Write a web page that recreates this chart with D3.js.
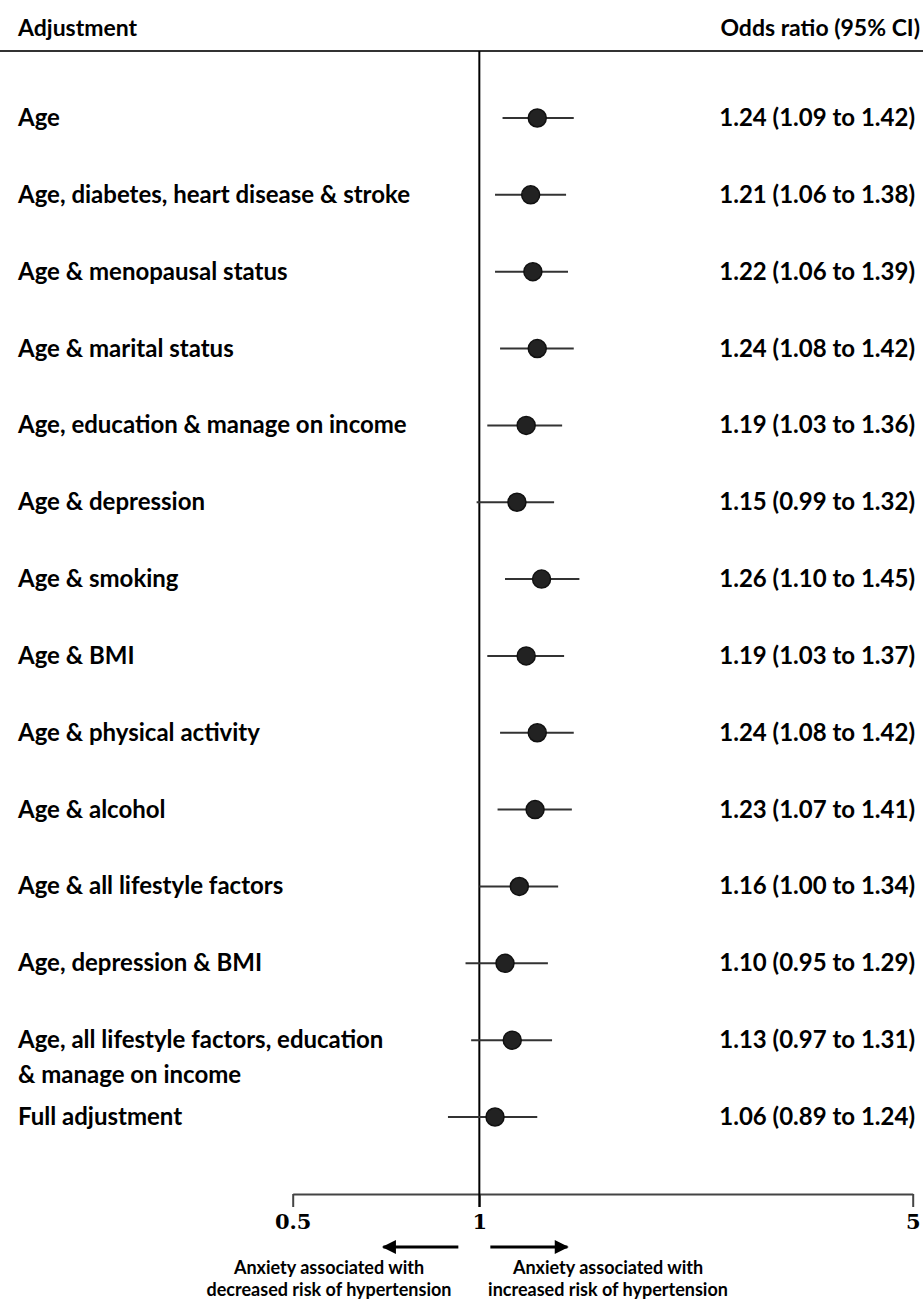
<!DOCTYPE html>
<html>
<head>
<meta charset="utf-8">
<script src="https://cdn.jsdelivr.net/npm/d3@7"></script>
<style>
  body { margin: 0; background: #fff; }
  text { font-family: Lato, "Open Sans", sans-serif; font-weight: bold; fill: #000; }
</style>
</head>
<body>
<script>
// data
const labels = [
  "Age",
  "Age, diabetes, heart disease & stroke",
  "Age & menopausal status",
  "Age & marital status",
  "Age, education & manage on income",
  "Age & depression",
  "Age & smoking",
  "Age & BMI",
  "Age & physical activity",
  "Age & alcohol",
  "Age & all lifestyle factors",
  "Age, depression & BMI",
  "Age, all lifestyle factors, education|& manage on income",
  "Full adjustment"
]
const oddsRatio = [1.24, 1.21, 1.22, 1.24, 1.19, 1.15, 1.26, 1.19, 1.24, 1.23, 1.16, 1.10, 1.13, 1.06]
const ciLow  = [1.09, 1.06, 1.06, 1.08, 1.03, 0.99, 1.10, 1.03, 1.08, 1.07, 1.00, 0.95, 0.97, 0.89]
const ciHigh = [1.42, 1.38, 1.39, 1.42, 1.36, 1.32, 1.45, 1.37, 1.42, 1.41, 1.34, 1.29, 1.31, 1.24]
const tickValues = [0.5, 1, 5]

const width = 923
const height = 1302

const rows = labels.map((l, i) => ({
  label: l, or: oddsRatio[i], lo: ciLow[i], hi: ciHigh[i], i: i
}))

const svg = d3.select("body").append("svg")
  .attr("width", width)
  .attr("height", height)

const x = d3.scaleLog().domain([0.5, 5]).range([292.7, 912.7])
const y = d3.scalePoint().domain(d3.range(rows.length)).range([118, 1117])

const fmt = d3.format(".2f")

// header
svg.append("text").attr("x", 18).attr("y", 36).style("font-size", "23px").text("Adjustment")
svg.append("text").attr("x", 920).attr("y", 36).attr("text-anchor", "end")
  .style("font-size", "23px").text("Odds ratio (95% CI)")
svg.append("line").attr("x1", 0).attr("x2", width).attr("y1", 51).attr("y2", 51)
  .attr("stroke", "#333").attr("stroke-width", 2)

// axis
const axisY = 1194
const axis = svg.append("g")
  .attr("transform", `translate(0,${axisY})`)
  .call(d3.axisBottom(x).tickValues(tickValues).tickSize(13).tickSizeOuter(0)
    .tickFormat(d => d))
axis.select(".domain").attr("stroke", "#444").attr("stroke-width", 2)
axis.selectAll(".tick line").attr("stroke", "#444").attr("stroke-width", 2)
axis.selectAll(".tick text")
  .attr("y", 20)
  .attr("dy", "0.71em")
  .style("font-family", "'DejaVu Serif', serif")
  .style("font-size", "21px")
  .style("font-weight", "bold")
  .attr("fill", "#000")

// reference line at OR = 1
svg.append("line")
  .attr("x1", x(1)).attr("x2", x(1))
  .attr("y1", 51).attr("y2", axisY + 13)
  .attr("stroke", "#000").attr("stroke-width", 2)

// rows
const row = svg.append("g").selectAll("g")
  .data(rows)
  .enter()
  .append("g")

row.append("text")
  .style("font-size", "24px")
  .each(function(d) {
    const parts = d.label.split("|")
    d3.select(this).selectAll("tspan")
      .data(parts)
      .enter()
      .append("tspan")
      .attr("x", 18)
      .attr("y", (p, k) => y(d.i) + 8 + k * 35)
      .text(p => p)
  })

row.append("line")
  .attr("x1", d => x(d.lo))
  .attr("x2", d => x(d.hi))
  .attr("y1", d => y(d.i))
  .attr("y2", d => y(d.i))
  .attr("stroke", "#333")
  .attr("stroke-width", 2)

row.append("circle")
  .attr("cx", d => x(d.or))
  .attr("cy", d => y(d.i))
  .attr("r", 9)
  .attr("fill", "#222")
  .attr("stroke", "#111")
  .attr("stroke-width", 1.5)

row.append("text")
  .attr("x", 915)
  .attr("y", d => y(d.i) + 8)
  .attr("text-anchor", "end")
  .style("font-size", "24px")
  .text(d => `${fmt(d.or)} (${fmt(d.lo)} to ${fmt(d.hi)})`)

// direction arrows
svg.append("defs").append("marker")
  .attr("id", "head")
  .attr("viewBox", "0 0 10 10")
  .attr("refX", 9).attr("refY", 5)
  .attr("markerWidth", 18).attr("markerHeight", 14)
  .attr("markerUnits", "userSpaceOnUse")
  .attr("orient", "auto")
  .append("path").attr("d", "M0,0L10,5L0,10Z").attr("fill", "#000")

const arrowY = 1247
svg.append("line")
  .attr("x1", x(1) - 21).attr("x2", x(1) - 96)
  .attr("y1", arrowY).attr("y2", arrowY)
  .attr("stroke", "#000").attr("stroke-width", 3)
  .attr("marker-end", "url(#head)")
svg.append("line")
  .attr("x1", x(1) + 11).attr("x2", x(1) + 88)
  .attr("y1", arrowY).attr("y2", arrowY)
  .attr("stroke", "#000").attr("stroke-width", 3)
  .attr("marker-end", "url(#head)")

const notes = [
  { cx: 329, lines: ["Anxiety associated with", "decreased risk of hypertension"] },
  { cx: 608, lines: ["Anxiety associated with", "increased risk of hypertension"] }
]
notes.forEach(n => {
  svg.append("text")
    .attr("text-anchor", "middle")
    .style("font-size", "18px")
    .selectAll("tspan")
    .data(n.lines)
    .enter()
    .append("tspan")
    .attr("x", n.cx)
    .attr("y", (l, k) => 1274 + k * 22)
    .text(l => l)
})
</script>
</body>
</html>
